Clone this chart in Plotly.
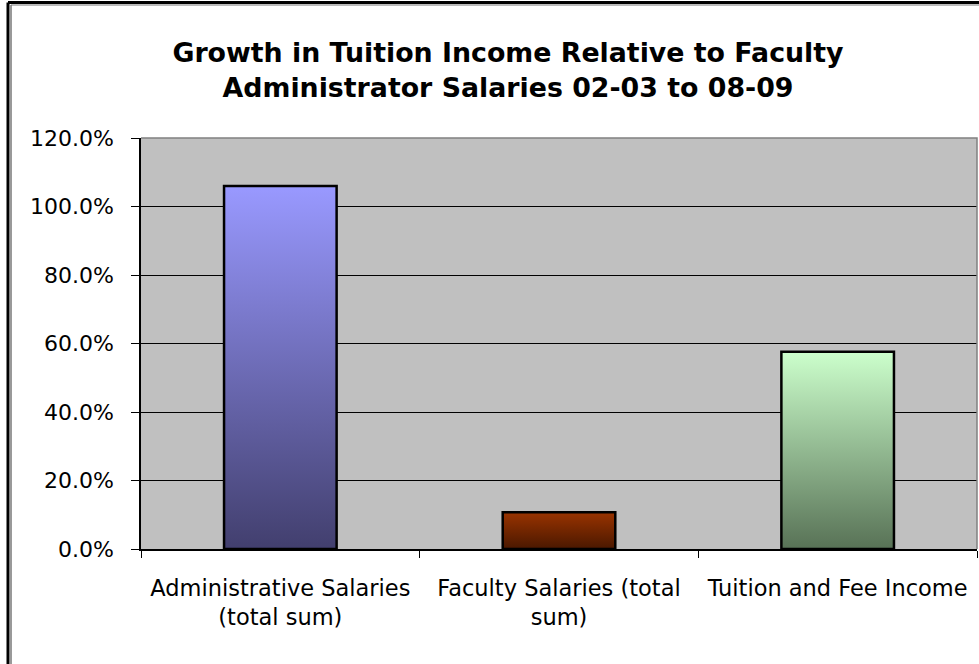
import plotly.graph_objects as go

categories = ["Administrative Salaries<br>(total sum)",
              "Faculty Salaries (total<br>sum)",
              "Tuition and Fee Income"]
values = [1.060, 0.107, 0.576]
top_colors = ["#9999FF", "#993300", "#CCFFCC"]
bottom_colors = ["#423F6E", "#4A1800", "#587256"]
y_ticks = [0, 0.2, 0.4, 0.6, 0.8, 1.0, 1.2]
title_text = "Growth in Tuition Income Relative to Faculty<br>Administrator Salaries 02-03 to 08-09"

W, H = 979, 664
ML, MR, MT, MB = 141, 2, 138, 115
PW = W - ML - MR
PH = H - MT - MB

def px_x(px):
    return (px - ML) / PW

def px_y(py):
    return (H - MB - py) / PH

bar_w = 0.404
fig = go.Figure()
for i, (v, tc, bc) in enumerate(zip(values, top_colors, bottom_colors)):
    x0, x1 = i - bar_w / 2, i + bar_w / 2
    fig.add_trace(go.Scatter(
        x=[x0, x0, x1, x1, x0], y=[0, v, v, 0, 0],
        mode="lines", fill="toself",
        fillgradient=dict(type="vertical", colorscale=[[0, bc], [1, tc]]),
        line=dict(color="black", width=2.5),
        hoverinfo="skip", showlegend=False,
    ))

shapes = [
    # plot area top/right border (gray)
    dict(type="path", xref="paper", yref="paper", path="M 0,1 L 1,1 L 1,0",
         line=dict(color="#808080", width=1.5), layer="above"),
    # outer frame (black + gray inner)
    dict(type="line", xref="paper", yref="paper", x0=px_x(8), x1=px_x(8),
         y0=px_y(H + 10), y1=px_y(2.5), line=dict(color="black", width=3)),
    dict(type="line", xref="paper", yref="paper", x0=px_x(8), x1=px_x(W + 10),
         y0=px_y(2.5), y1=px_y(2.5), line=dict(color="black", width=3)),
    dict(type="line", xref="paper", yref="paper", x0=px_x(11), x1=px_x(11),
         y0=px_y(H + 10), y1=px_y(5), line=dict(color="#777777", width=1.5)),
    dict(type="line", xref="paper", yref="paper", x0=px_x(11), x1=px_x(W + 10),
         y0=px_y(5), y1=px_y(5), line=dict(color="#777777", width=1)),
]

fig.update_layout(
    width=W, height=H,
    margin=dict(l=ML, r=MR, t=MT, b=MB, pad=0),
    paper_bgcolor="white", plot_bgcolor="#C0C0C0",
    font=dict(family="DejaVu Sans", color="black", size=22),
    title=dict(text=title_text, x=508 / W, xanchor="center", xref="container",
               y=1 - 62 / H, yanchor="middle", yref="container",
               font=dict(family="DejaVu Sans", size=26.8, color="black", weight="bold")),
    shapes=shapes,
    showlegend=False,
)
fig.update_xaxes(
    range=[-0.5, 2.5], tickvals=[0, 1, 2], ticktext=categories,
    ticks="", showgrid=False, zeroline=False,
    showline=True, linecolor="black", linewidth=1.5,
    tickfont=dict(family="DejaVu Sans", size=22.5, color="black"),
    ticklabelstandoff=18,
    minor=dict(tickvals=[-0.5, 0.5, 1.5, 2.5], ticks="outside", ticklen=7,
               tickcolor="black", tickwidth=1.2, showgrid=False),
    fixedrange=True,
)
fig.update_yaxes(
    range=[0, 1.2], tickvals=y_ticks, tickformat=".1%",
    ticks="outside", ticklen=8, tickcolor="black", tickwidth=1.2,
    showgrid=True, gridcolor="black", gridwidth=1,
    zeroline=False, showline=True, linecolor="black", linewidth=1.5,
    tickfont=dict(family="DejaVu Sans", size=22, color="black"),
    ticklabelstandoff=13,
    fixedrange=True,
)

fig.write_html("out.html")
